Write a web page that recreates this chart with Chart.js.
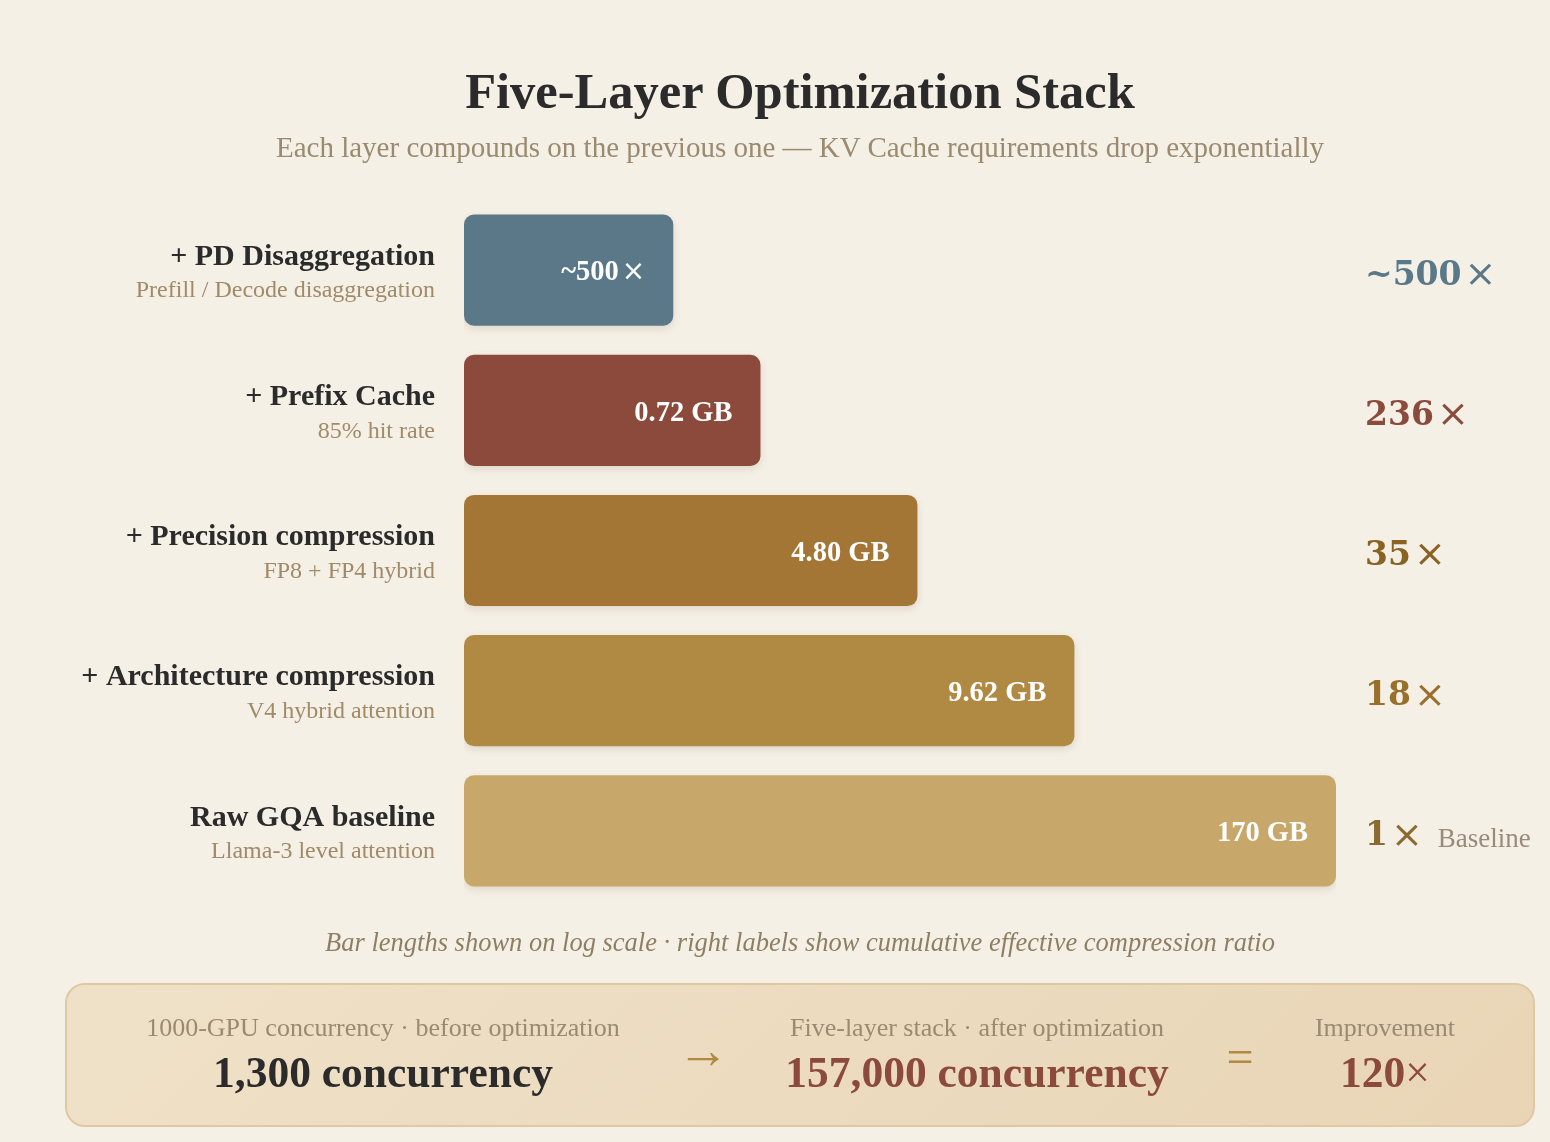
<!DOCTYPE html>
<html>
<head>
<meta charset="utf-8">
<script src="https://cdn.jsdelivr.net/npm/chart.js@4.4.0/dist/chart.umd.min.js"></script>
<style>
  body { margin:0; width:1550px; height:1142px; overflow:hidden; position:relative;
         background:#f5f0e6; font-family:"Liberation Serif", serif; }
  #chart { position:absolute; left:0; top:0; }
  .center { position:absolute; left:0; width:1600px; text-align:center; }
  h1 { margin:0; top:62px; font-size:50.5px; font-weight:bold; color:#2b2b2b; }
  .sub { top:131px; font-size:29px; color:#9a8a70; }
  .note { top:927px; font-size:26.5px; font-style:italic; color:#8e7e64; }
  .box { position:absolute; left:65px; top:983px; width:1466px; height:140px; border-radius:20px;
         border:2px solid #dfc9a3; background:linear-gradient(135deg,#efe1c8,#e9d5b6); }
  .col { position:absolute; top:0; transform:translateX(-50%); text-align:center; white-space:nowrap; }
  .col .lbl { margin-top:28px; font-size:26px; color:#9a8a70; }
  .col .big { margin-top:4px; font-size:43.5px; font-weight:bold; color:#2b2b2b; }
  .col .big.red { color:#8b4a3c; }
  .sym { position:absolute; transform:translateX(-50%); color:#b08a42; }
  .arrow { top:36px; font-size:52px; }
  .eq { top:44px; font-size:48px; }
  .x { font-weight:normal; }
</style>
</head>
<body>
<canvas id="chart" width="1550" height="1142"></canvas>
<h1 class="center">Five-Layer Optimization Stack</h1>
<div class="center sub">Each layer compounds on the previous one — KV Cache requirements drop exponentially</div>
<div class="center note">Bar lengths shown on log scale · right labels show cumulative effective compression ratio</div>
<div class="box">
  <div class="col" style="left:316px"><div class="lbl">1000-GPU concurrency · before optimization</div><div class="big">1,300 concurrency</div></div>
  <div class="sym arrow" style="left:636px">→</div>
  <div class="col" style="left:910px"><div class="lbl">Five-layer stack · after optimization</div><div class="big red">157,000 concurrency</div></div>
  <div class="sym eq" style="left:1173px">=</div>
  <div class="col" style="left:1318px"><div class="lbl">Improvement</div><div class="big red">120<span class="x">×</span></div></div>
</div>
<script>
// optimization layers, top to bottom
const layers = ['+ PD Disaggregation', '+ Prefix Cache', '+ Precision compression', '+ Architecture compression', 'Raw GQA baseline'];
const notes = ['Prefill / Decode disaggregation', '85% hit rate', 'FP8 + FP4 hybrid', 'V4 hybrid attention', 'Llama-3 level attention'];
// bar length on the log-scale track (% of baseline bar)
const barLength = [24, 34, 52, 70, 100];
const kvLabels = ['~500×', '0.72 GB', '4.80 GB', '9.62 GB', '170 GB'];
const ratios = ['~500', '236', '35', '18', '1'];
const barColors = ['#5a7888', '#8b4a3c', '#a37635', '#b08a42', '#c8a86a'];
const ratioColors = ['#5a7888', '#8b4a3c', '#8a6222', '#98702c', '#8a6a2e'];

const SERIF = '"Liberation Serif", serif';

// draws text, with any "×" in a thin weight
function drawMixed(ctx, text, x, y, align, boldFont, thinFont) {
  const parts = text.split('×');
  ctx.font = boldFont;
  const w1 = ctx.measureText(parts[0]).width;
  let w2 = 0;
  if (parts.length > 1) { ctx.font = thinFont; w2 = ctx.measureText('×').width + 3; }
  const start = align === 'right' ? x - w1 - w2 : x;
  ctx.textAlign = 'left';
  ctx.font = boldFont;
  ctx.fillText(parts[0], start, y);
  if (parts.length > 1) { ctx.font = thinFont; ctx.fillText('×', start + w1 + 3, y); }
  return start + w1 + w2;
}

const shadowPlugin = {
  id: 'barShadow',
  beforeDatasetsDraw(chart) {
    const ctx = chart.ctx;
    ctx.save();
    ctx.shadowColor = 'rgba(90,60,20,0.14)';
    ctx.shadowBlur = 8;
    ctx.shadowOffsetY = 3;
  },
  afterDatasetsDraw(chart) {
    chart.ctx.restore();
  }
};

const labelPlugin = {
  id: 'stackLabels',
  afterDraw(chart) {
    const ctx = chart.ctx;
    const area = chart.chartArea;
    const bars = chart.getDatasetMeta(0).data;
    ctx.save();
    ctx.textBaseline = 'middle';
    bars.forEach((bar, i) => {
      const y = bar.y;
      // left labels
      ctx.textAlign = 'right';
      ctx.fillStyle = '#2b2b2b';
      ctx.font = 'bold 30px ' + SERIF;
      ctx.fillText(layers[i], area.left - 29, y - 13);
      ctx.fillStyle = '#a08a68';
      ctx.font = '24px ' + SERIF;
      ctx.fillText(notes[i], area.left - 29, y + 21);
      // value inside bar
      ctx.fillStyle = '#ffffff';
      drawMixed(ctx, kvLabels[i], bar.x - 28, y + 3, 'right', 'bold 28.5px ' + SERIF, '28px "DejaVu Sans", sans-serif');
      // cumulative ratio on the right
      ctx.fillStyle = ratioColors[i];
      const end = drawMixed(ctx, ratios[i] + '×', area.right + 29, y + 6, 'left',
        'bold 33px "DejaVu Serif", serif', '38px "DejaVu Sans", sans-serif');
      if (i === barLength.length - 1) {
        ctx.fillStyle = '#9a8a78';
        ctx.font = '27px ' + SERIF;
        ctx.fillText('Baseline', end + 15, y + 9);
      }
    });
    ctx.restore();
  }
};

new Chart(document.getElementById('chart'), {
  type: 'bar',
  data: {
    labels: layers,
    datasets: [{
      data: barLength,
      backgroundColor: barColors,
      borderRadius: 10,
      borderSkipped: false,
      barPercentage: 0.793,
      categoryPercentage: 1
    }]
  },
  options: {
    indexAxis: 'y',
    responsive: false,
    animation: false,
    layout: { padding: { left: 464, right: 214, top: 200, bottom: 241 } },
    scales: {
      x: { type: 'linear', min: 0, max: 100, display: false },
      y: { display: false }
    },
    plugins: { legend: { display: false }, tooltip: { enabled: false } }
  },
  plugins: [shadowPlugin, labelPlugin]
});
</script>
</body>
</html>
